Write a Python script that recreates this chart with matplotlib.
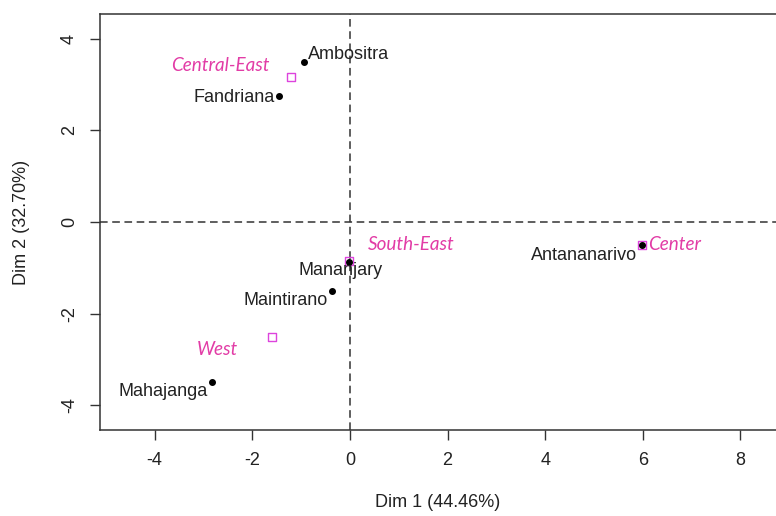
import matplotlib
matplotlib.use("Agg")
from matplotlib import pyplot as plt

# individuals (towns) on the first factorial plane
towns = ["Ambositra", "Fandriana", "Mananjary", "Maintirano", "Mahajanga", "Antananarivo"]
town_dim1 = [-0.94, -1.45, -0.02, -0.37, -2.83, 5.98]
town_dim2 = [3.49, 2.75, -0.87, -1.51, -3.49, -0.50]

# supplementary categories (regions)
regions = ["Central-East", "South-East", "West", "Center"]
region_dim1 = [-1.21, -0.02, -1.60, 5.98]
region_dim2 = [3.17, -0.85, -2.51, -0.50]

xticks = [-4, -2, 0, 2, 4, 6, 8]
yticks = [-4, -2, 0, 2, 4]

# label offsets in pixels and alignment
town_lab = {
    "Ambositra": (4, 8, "left"),
    "Fandriana": (-4, -1, "right"),
    "Mananjary": (-8, -9, "center"),
    "Maintirano": (-4, -9, "right"),
    "Mahajanga": (-4, -10, "right"),
    "Antananarivo": (-5, -11, "right"),
}
region_lab = {
    "Central-East": (-21, 11, "right"),
    "South-East": (19, 16, "left"),
    "West": (-34, -13, "right"),
    "Center": (6, 0, "left"),
}

plt.rcParams["font.family"] = ["Liberation Sans", "DejaVu Sans"]
fs = 13
pink = "#e23ca6"

fig = plt.figure(figsize=(7.76, 5.16), dpi=100)
ax = fig.add_axes([100 / 776, 1 - 430 / 516, 1 - 100 / 776, (430 - 14) / 516])
ax.set_xlim(-5.12, 8.73)
ax.set_ylim(-4.54, 4.54)

ax.axhline(0, color="#333333", lw=1.1, ls=(0, (5, 3)), zorder=1)
ax.axvline(0, color="#333333", lw=1.1, ls=(0, (5, 3)), zorder=1)

ax.scatter(region_dim1, region_dim2, marker="s", s=30, facecolors="none",
           edgecolors="#dd44dd", linewidths=1.0, zorder=2)
ax.scatter(town_dim1, town_dim2, s=16, color="black", zorder=3)

for name, x, y in zip(towns, town_dim1, town_dim2):
    dx, dy, ha = town_lab[name]
    ax.annotate(name, (x, y), xytext=(dx, dy), textcoords="offset pixels",
                ha=ha, va="center", fontsize=fs, color="#222222")

for name, x, y in zip(regions, region_dim1, region_dim2):
    dx, dy, ha = region_lab[name]
    ax.annotate(name, (x, y), xytext=(dx, dy), textcoords="offset pixels",
                ha=ha, va="center", fontsize=fs + 0.6, color=pink,
                style="italic", family=["Lato", "DejaVu Sans"])

ax.set_xticks(xticks)
ax.set_yticks(yticks)
ax.set_xticklabels([str(t) for t in xticks], fontsize=fs, color="#222222")
ax.set_yticklabels([str(t) for t in yticks], fontsize=fs, color="#222222",
                   rotation=90, va="center")
ax.tick_params(length=7, width=1, color="#333333", pad=9)
ax.spines["right"].set_visible(False)
for s in ["left", "top", "bottom"]:
    ax.spines[s].set_color("#333333")
    ax.spines[s].set_linewidth(1.1)

ax.set_xlabel("Dim 1 (44.46%)", fontsize=fs, color="#222222", labelpad=18)
ax.set_ylabel("Dim 2 (32.70%)", fontsize=fs, color="#222222", labelpad=22)

fig.savefig("out.png", dpi=100)
